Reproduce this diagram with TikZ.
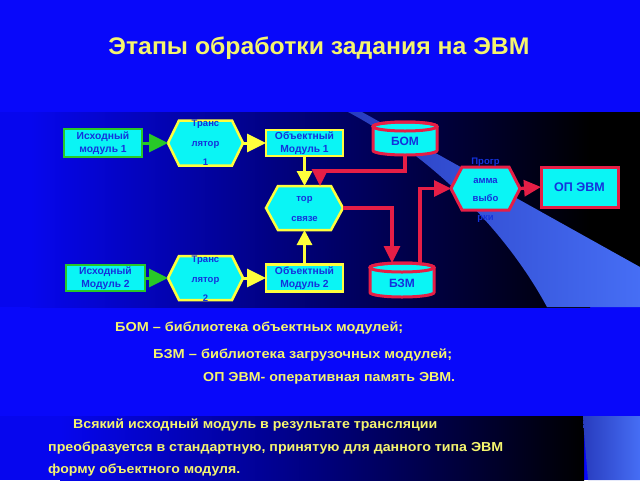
\documentclass[tikz,border=0pt]{standalone}
\usepackage{fontspec}
\usepackage{graphicx}
\setmainfont{Liberation Sans}
\usetikzlibrary{arrows.meta,calc}
\definecolor{bgblue}{RGB}{8,8,250}
\definecolor{bandblue}{RGB}{6,6,238}
\definecolor{bandmid}{RGB}{0,0,105}
\definecolor{beamA}{RGB}{40,60,190}
\definecolor{beamB}{RGB}{70,110,245}
\definecolor{cyanfill}{RGB}{10,245,245}
\definecolor{ylw}{RGB}{255,255,60}
\definecolor{grn}{RGB}{40,200,40}
\definecolor{rd}{RGB}{230,30,70}
\definecolor{ntext}{RGB}{20,50,220}
\definecolor{ttext}{RGB}{245,245,110}
\tikzset{
 anchorbox/.style={rectangle, inner sep=0pt, outer sep=0pt},
 srcbox/.style={rectangle, draw=grn, fill=cyanfill, line width=2.5pt, inner sep=0pt, outer sep=0pt, align=center, text=ntext, font=\fontsize{10.3}{13}\selectfont\bfseries},
 objbox/.style={srcbox, draw=ylw},
 opbox/.style={srcbox, draw=rd, line width=3pt, font=\fontsize{12.5}{14}\selectfont\bfseries},
 hexfill/.style={fill=cyanfill, draw=ylw, line width=2.5pt, line join=miter},
 hexred/.style={hexfill, draw=rd, line width=3pt},
 cyl/.style={fill=cyanfill, draw=rd, line width=3pt},
 hextext/.style={align=center, text=ntext, font=\fontsize{9.5}{19.5}\selectfont\bfseries, inner sep=0pt},
 cyltext/.style={text=ntext, font=\fontsize{12}{14}\selectfont\bfseries, inner sep=0pt},
 garrow/.style={draw=grn, line width=3pt, -{Triangle[length=19pt,width=18pt]}},
 yarrow/.style={garrow, draw=ylw},
 yvarrow/.style={draw=ylw, line width=3pt, -{Triangle[length=15pt,width=15pt]}},
 rarrow/.style={draw=rd, line width=3.2pt, -{Triangle[length=17pt,width=16pt]}},
 caption/.style={text=ttext, font=\fontsize{13}{15}\selectfont\bfseries, inner sep=0pt, anchor=west},
}
\newcommand\myhex[3]{\filldraw[#1] (#2.west) -- ($(#2.north west)+(#3,0)$) -- ($(#2.north east)+(-#3,0)$) -- (#2.east) -- ($(#2.south east)+(-#3,0)$) -- ($(#2.south west)+(#3,0)$) -- cycle;}
\newcommand\mycyl[2]{\filldraw[cyl] ($(#1.south west)+(0,-4.5)$) arc[start angle=180,end angle=360,x radius=#2pt,y radius=4.5pt] -- ($(#1.north east)+(0,4.5)$) arc[start angle=0,end angle=180,x radius=#2pt,y radius=4.5pt] -- cycle;
\draw[cyl, fill=none] ($(#1.north)+(0,4.5)$) ellipse[x radius=#2pt, y radius=4.5pt];}
\begin{document}
\begin{tikzpicture}[x=1pt,y=-1pt]
\useasboundingbox (0,0) rectangle (640,480);
% backgrounds
\fill[bgblue] (0,0) rectangle (640,480);
\fill[bandblue] (0,112) rectangle (30,307);
\shade[left color=bandblue, right color=bandmid] (30,112) rectangle (330,307);
\shade[left color=bandmid, right color=black] (329.5,112) rectangle (590,307);
\fill[black] (589.5,112) rectangle (640,307);
\shade[left color=beamA, right color=beamB] (348,112) -- (362,112) -- (640,267) -- (640,307) -- (547,307) .. controls (500,220) and (420,150) .. (348,112) -- cycle;
\fill[bandblue] (0,416) rectangle (60,480);
\shade[left color=bandblue, right color={rgb,255:red,0;green,0;blue,125}] (60,416) rectangle (320,480);
\shade[left color={rgb,255:red,0;green,0;blue,125}, right color=black] (319.5,416) rectangle (584,480);
\shade[left color=beamA, right color=beamB] (583,416) -- (640,416) -- (640,480) -- (588,480) .. controls (586,455) and (584,435) .. (583,416) -- cycle;
% title
\node[font=\fontsize{24}{28}\selectfont\bfseries, text=ttext, inner sep=0pt] (title) at (319,48) {\resizebox{421pt}{\height}{Этапы обработки задания на ЭВМ}};
% boxes
\node[srcbox, minimum width=78pt, minimum height=28pt] (s1) at (103,143) {Исходный\\модуль 1};
\node[srcbox, minimum width=79pt, minimum height=26pt] (s2) at (105.5,278) {Исходный\\Модуль 2};
\node[objbox, minimum width=77pt, minimum height=26pt] (o1) at (304.5,143) {Объектный\\Модуль 1};
\node[objbox, minimum width=77pt, minimum height=27pt] (o2) at (304.5,278) {Объектный\\Модуль 2};
\node[opbox, minimum width=77pt, minimum height=40pt] (op) at (579.5,187) {ОП ЭВМ};
\node[anchorbox, minimum width=75pt, minimum height=45pt] (t1) at (205.5,143) {};
\node[anchorbox, minimum width=75pt, minimum height=44pt] (t2) at (205.5,278) {};
\node[anchorbox, minimum width=77pt, minimum height=44pt] (lk) at (304.5,208) {};
\node[anchorbox, minimum width=69pt, minimum height=43pt] (prog) at (485.5,188.5) {};
\node[anchorbox, minimum width=64pt, minimum height=33pt] (bom) at (405,138.5) {};
\node[anchorbox, minimum width=64pt, minimum height=34pt] (bzm) at (402,280) {};
\myhex{hexfill}{t1}{11}
\myhex{hexfill}{t2}{11}
\myhex{hexfill}{lk}{12}
\myhex{hexred}{prog}{11}
\mycyl{bom}{32}
\mycyl{bzm}{32}
% connectors
\draw[garrow] (s1.east) -- (t1.west);
\draw[garrow] (s2.east) -- (t2.west);
\draw[yarrow] (t1.east) -- (o1.west);
\draw[yarrow] (t2.east) -- (o2.west);
\draw[yvarrow] (o1.south) -- (lk.north);
\draw[yvarrow] (o2.north) -- (lk.south);
\coordinate (c1) at (320,171);
\draw[rarrow] (bom.south) |- (c1) -- (c1 |- lk.north);
\draw[rarrow] (lk.east) -| ($(bzm.north)+(-10,0)$);
\coordinate (c3) at ($(bzm.north)+(18,1.5)$);
\draw[rarrow] (c3) |- (prog.west);
\draw[rarrow] (prog.east) -- (op.west);
% texts in shapes
\node[hextext] (t1txt) at (205.5,143) {Транс\\лятор\\1};
\node[hextext] (t2txt) at (205.5,279) {Транс\\лятор\\2};
\node[hextext] (lktxt) at (304.5,209) {тор\\связе};
\node[hextext, font=\fontsize{9.5}{18.5}\selectfont\bfseries] (progtxt) at (485.5,190) {Прогр\\амма\\выбо\\рки};
\node[cyltext] (bomtxt) at (405,141) {БОМ};
\node[cyltext] (bzmtxt) at (402,283) {БЗМ};
% captions
\node[caption] (l1) at (115,328) {\resizebox{288pt}{\height}{БОМ – библиотека объектных модулей;}};
\node[caption] (l2) at (153,355) {\resizebox{299pt}{\height}{БЗМ – библиотека загрузочных модулей;}};
\node[caption] (l3) at (203,378) {\resizebox{252pt}{\height}{ОП ЭВМ- оперативная память ЭВМ.}};
\node[caption] (p1) at (73,425) {\resizebox{364pt}{\height}{Всякий исходный модуль в результате трансляции}};
\node[caption] (p2) at (48,448) {\resizebox{455pt}{\height}{преобразуется в стандартную, принятую для данного типа ЭВМ}};
\node[caption] (p3) at (48,470) {\resizebox{192pt}{\height}{форму объектного модуля.}};
\end{tikzpicture}
\end{document}
